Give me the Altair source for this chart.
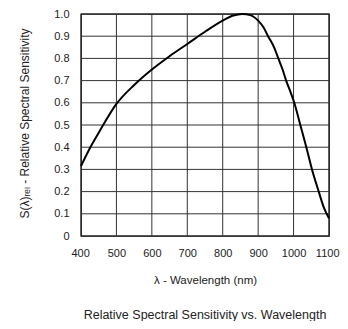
import altair as alt
import pandas as pd

wavelength = [400, 425, 450, 500, 550, 600, 650, 700, 750, 800, 830, 855, 878, 900, 915,
              928, 945, 957, 969, 979, 991, 1002, 1019, 1036, 1052, 1071, 1085, 1100]
sensitivity = [0.315, 0.395, 0.465, 0.595, 0.68, 0.75, 0.81, 0.865, 0.92, 0.97, 0.993, 1.0,
               0.995, 0.97, 0.94, 0.90, 0.85, 0.80, 0.75, 0.70, 0.65, 0.60, 0.50, 0.40,
               0.30, 0.20, 0.13, 0.08]
x_ticks = [400, 500, 600, 700, 800, 900, 1000, 1100]
y_ticks = [0, 0.1, 0.2, 0.3, 0.4, 0.5, 0.6, 0.7, 0.8, 0.9, 1.0]

df = pd.DataFrame({"wl": wavelength, "s": sensitivity})
xg = pd.DataFrame({"wl": x_ticks})
yg = pd.DataFrame({"s": y_ticks})

FONT = "Liberation Sans"

xscale = alt.Scale(domain=[400, 1100], nice=False, zero=False)
yscale = alt.Scale(domain=[0, 1], nice=False)

xaxis = alt.Axis(values=x_ticks, title="λ - Wavelength (nm)", format="d",
                 labelOverlap=False, labelFlush=True, labelFlushOffset=10,
                 grid=False, domain=False, ticks=False, labelPadding=11,
                 labelFont=FONT, labelFontSize=11, labelColor="#222",
                 titleFont=FONT, titleFontSize=11.5, titleFontWeight="normal",
                 titleColor="#222", titleY=44, titleX=124, titleBaseline="middle")
yaxis = alt.Axis(values=y_ticks, title="S(λ)ᵣₑₗ - Relative Spectral Sensitivity",
                 labelExpr="datum.value == 0 ? '0' : format(datum.value, '.1f')",
                 labelOverlap=False, labelFlush=False,
                 grid=False, domain=False, ticks=False, labelPadding=12,
                 labelFont=FONT, labelFontSize=11, labelColor="#222",
                 titleFont=FONT, titleFontSize=12, titleFontWeight="normal",
                 titleColor="#222", titleX=-57, titleY=109, titleAngle=270,
                 titleAlign="center", titleBaseline="middle")

vgrid = alt.Chart(xg).mark_rule(color="#333", strokeWidth=1).encode(
    x=alt.X("wl:Q", scale=xscale, axis=xaxis))
hgrid = alt.Chart(yg).mark_rule(color="#333", strokeWidth=1).encode(
    y=alt.Y("s:Q", scale=yscale, axis=yaxis))

line = alt.Chart(df).mark_line(
    color="black", strokeWidth=2, interpolate="monotone"
).encode(
    x=alt.X("wl:Q", scale=xscale, axis=xaxis),
    y=alt.Y("s:Q", scale=yscale, axis=yaxis),
)

chart = alt.layer(vgrid, hgrid, line).properties(
    width=248, height=222,
    autosize=alt.AutoSizeParams(type="none"),
    padding={"left": 73, "top": 6, "right": 11, "bottom": 85},
    title=alt.TitleParams("Relative Spectral Sensitivity vs. Wavelength", orient="bottom",
                          font=FONT, fontSize=12.5, fontWeight="normal", color="#222",
                          anchor="middle", offset=23),
).configure_view(stroke="black", strokeWidth=1.3)

chart.save("out.html", embed_options={"renderer": "svg", "actions": False})
